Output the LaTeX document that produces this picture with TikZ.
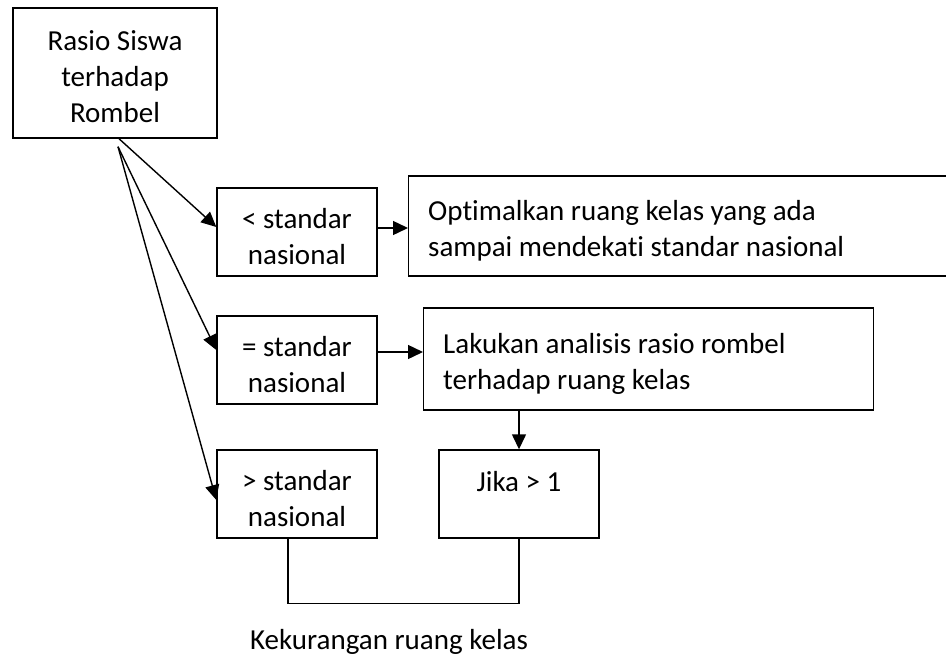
\documentclass[tikz,border=0pt]{standalone}
\usepackage{fontspec}
\setmainfont{Carlito}[Ligatures=NoCommon]
\usetikzlibrary{arrows.meta,calc}
\begin{document}
\begin{tikzpicture}[x=1pt,y=-1pt,
  every node/.style={font=\fontsize{29}{36}\selectfont},
  box/.style={draw,line width=1.4pt,inner sep=0pt},
  small/.style={box,minimum width=160,minimum height=88},
  txt/.style={align=center,inner sep=0pt},
  ltxt/.style={align=flush left,inner sep=0pt,anchor=west},
  arr/.style={line width=1.4pt,-{Triangle[length=15pt,width=14pt]}},
  ln/.style={line width=1.4pt}]
\useasboundingbox (0,0) rectangle (946,659);
% boxes
\node[box,minimum width=204,minimum height=130] (ras) at (115,73) {};
\node[small] (lt) at (297,232) {};
\node[small] (eq) at (297,360) {};
\node[small] (gt) at (297,494) {};
\node[small] (jk) at (519,494) {};
\node[box,minimum width=552,minimum height=100,anchor=west] (opt) at (408,226) {};
\node[box,minimum width=450,minimum height=102,anchor=west] (lak) at (423,359) {};
% texts
\node[txt] (rast) at ($(ras)+(0,4)$) {Rasio Siswa\\terhadap\\Rombel};
\node[txt] (ltt) at ($(lt)+(0,5)$) {< standar\\nasional};
\node[txt] (eqt) at ($(eq)+(0,5)$) {= standar\\nasional};
\node[txt] (gtt) at ($(gt)+(0,5)$) {> standar\\nasional};
\node[txt] (jkt) at ($(jk)+(0,5)$) {Jika > 1\\\phantom{x}};
\node[ltxt] (optt) at ($(opt.west)+(20,5)$) {Optimalkan ruang kelas yang ada\\sampai mendekati standar nasional};
\node[ltxt] (lakt) at ($(lak.west)+(20,5)$) {Lakukan analisis rasio rombel\\terhadap ruang kelas};
\node[anchor=base] (kek) at (389,649) {Kekurangan ruang kelas};
% connectors
\coordinate (o1) at ($(ras.south)+(4,0)$);
\coordinate (o2) at ($(ras.south)+(3,8)$);
\draw[arr] (o1) -- ($(lt.west)+(0,-5)$);
\draw[arr] (o2) -- ($(eq.west)+(0,-10)$);
\draw[arr] (o2) -- ($(gt.west)+(0,6)$);
\coordinate (a1) at ($(lt.east)+(0,-4)$);
\coordinate (a2) at ($(eq.east)+(0,-8)$);
\draw[arr] (a1) -- (a1 -| opt.west);
\draw[arr] (a2) -- (a2 -| lak.west);
\draw[arr] (jk.north |- lak.south) -- (jk.north);
\draw[ln] ($(gt.south)+(-9,0)$) -- ++(0,65) -| (jk.south);
\end{tikzpicture}
\end{document}
